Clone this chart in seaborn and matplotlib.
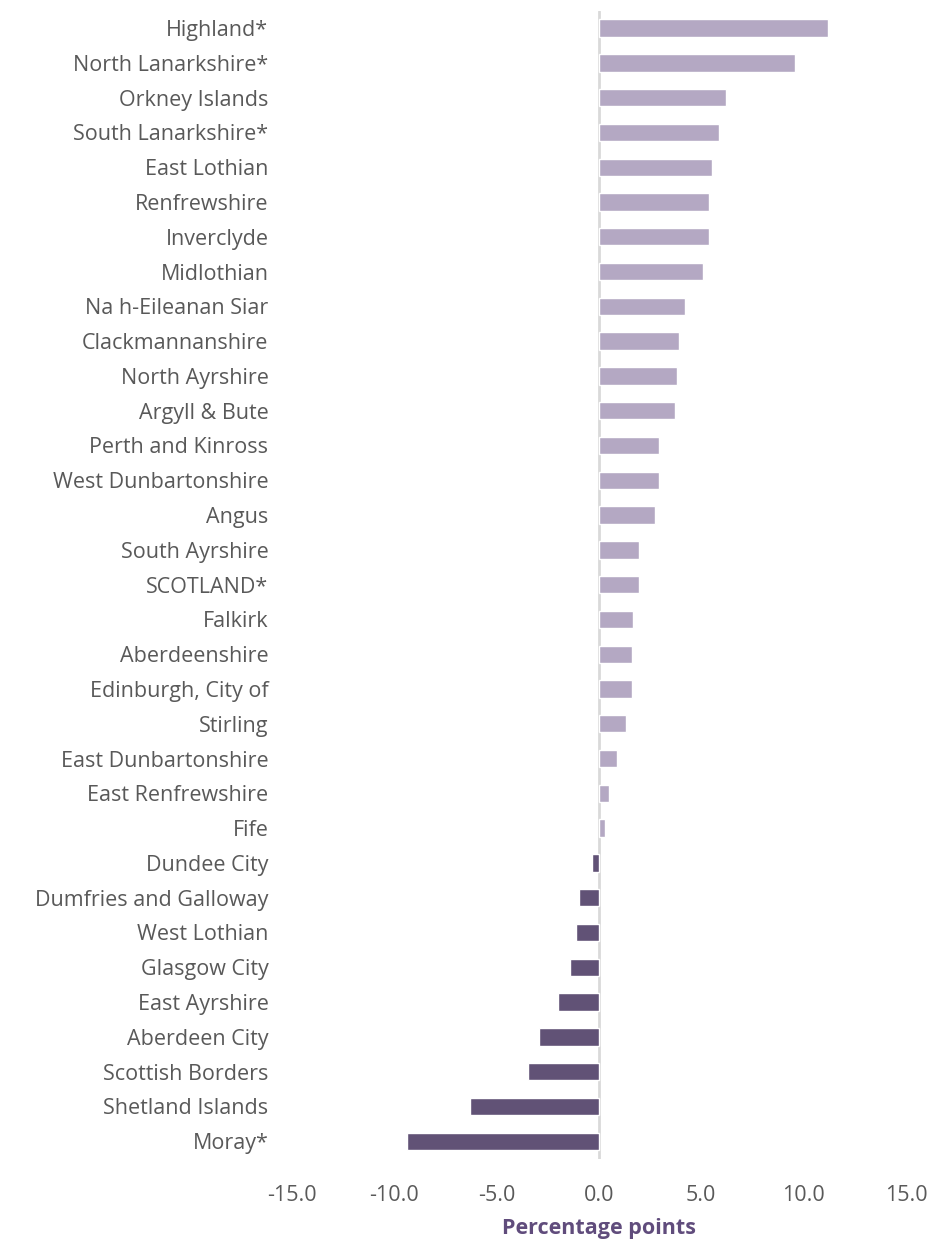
import pandas as pd
import seaborn as sns
import matplotlib.pyplot as plt

areas = ['Highland*', 'North Lanarkshire*', 'Orkney Islands', 'South Lanarkshire*',
         'East Lothian', 'Renfrewshire', 'Inverclyde', 'Midlothian',
         'Na h-Eileanan Siar', 'Clackmannanshire', 'North Ayrshire', 'Argyll & Bute',
         'Perth and Kinross', 'West Dunbartonshire', 'Angus', 'South Ayrshire',
         'SCOTLAND*', 'Falkirk', 'Aberdeenshire', 'Edinburgh, City of', 'Stirling',
         'East Dunbartonshire', 'East Renfrewshire', 'Fife', 'Dundee City',
         'Dumfries and Galloway', 'West Lothian', 'Glasgow City', 'East Ayrshire',
         'Aberdeen City', 'Scottish Borders', 'Shetland Islands', 'Moray*']
change = [11.2, 9.6, 6.2, 5.85, 5.5, 5.4, 5.4, 5.1,
          4.2, 3.9, 3.8, 3.7, 2.95, 2.95, 2.75, 1.95,
          1.95, 1.65, 1.6, 1.6, 1.3, 0.9, 0.5, 0.3, -0.35,
          -1.0, -1.1, -1.4, -2.0, -2.95, -3.45, -6.3, -9.4]

df = pd.DataFrame({'area': areas, 'change': change})
df['sign'] = ['up' if v >= 0 else 'down' for v in df['change']]

sns.set_style('white')
plt.rcParams['font.family'] = ['Open Sans', 'DejaVu Sans']

fig = plt.figure(figsize=(9.33, 12.41), dpi=100)
ax = fig.add_axes([0.313, 0.0664, 0.658, 0.925])

sns.barplot(data=df, x='change', y='area', hue='sign',
            palette={'up': '#b3a3c8', 'down': '#604c7c'},
            width=0.5, legend=False, ax=ax)

ax.axvline(0, color='#d9d9d9', lw=2, zorder=0)
ax.set_xlim(-15, 15)
ax.set_xticks([-15, -10, -5, 0, 5, 10, 15])
ax.set_xticklabels(['-15.0', '-10.0', '-5.0', '0.0', '5.0', '10.0', '15.0'])
sns.despine(ax=ax, left=True, bottom=True)
ax.tick_params(axis='x', length=0, pad=19, labelsize=15.5, labelcolor='#595959')
ax.tick_params(axis='y', length=0, pad=17, labelsize=15.5, labelcolor='#595959')
ax.set_ylabel('')
ax.set_xlabel('Percentage points', fontsize=15.5, fontweight='bold',
              color='#604c7c', labelpad=9)

fig.savefig('out.png', dpi=100)
